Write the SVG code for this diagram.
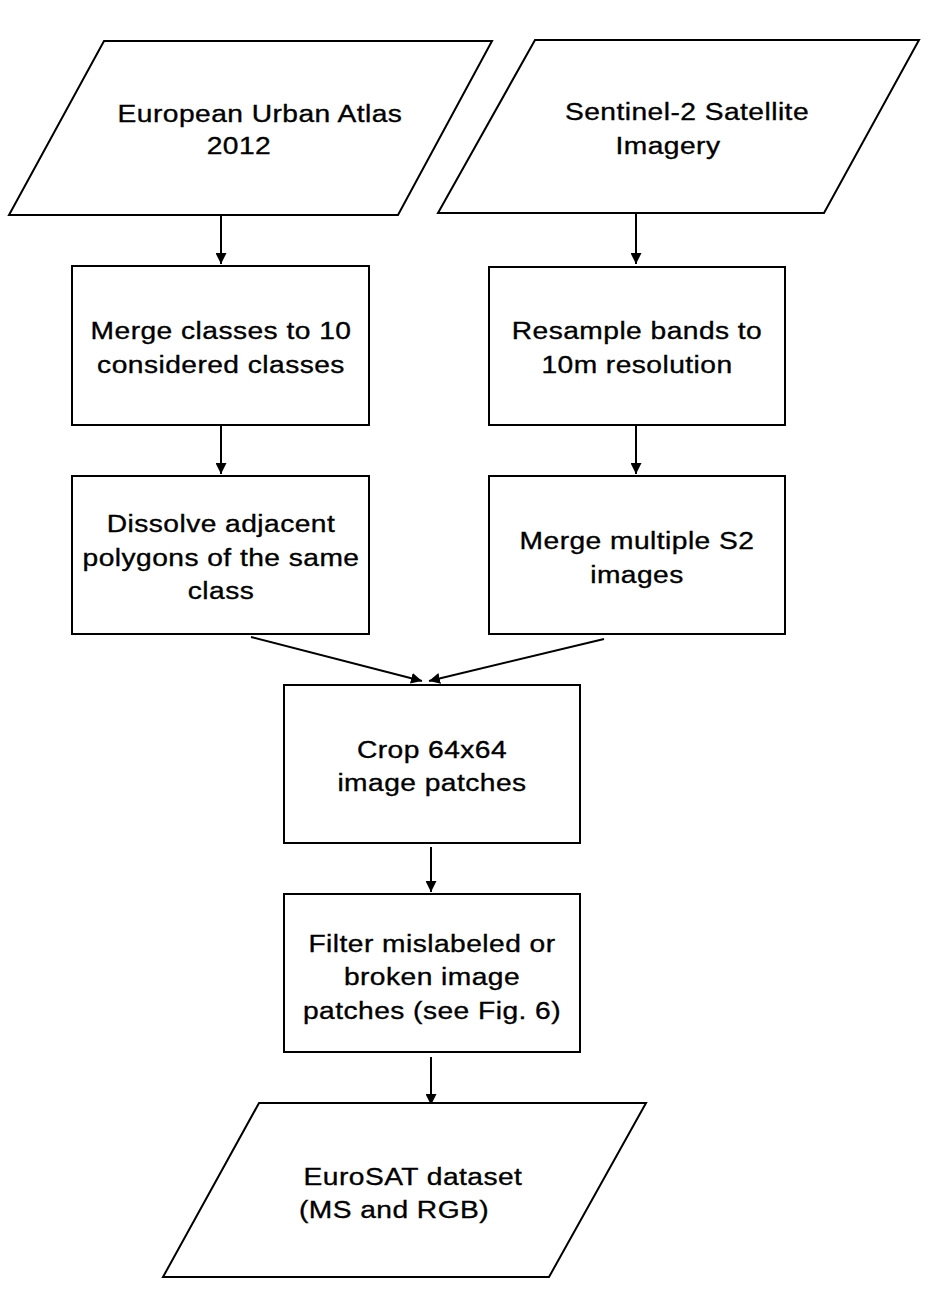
<svg xmlns="http://www.w3.org/2000/svg" width="930" height="1308" viewBox="0 0 930 1308">
<style>
.s{fill:#fff;stroke:#000;stroke-width:2}
.t{font-family:"Liberation Sans",Arial,sans-serif;font-size:24.5px;letter-spacing:0.4px;fill:#000;stroke:#000;stroke-width:0.35px;text-anchor:middle;transform-box:fill-box;transform-origin:center;transform:scaleX(1.15)}
.c{fill:none;stroke:#000;stroke-width:2}
</style>
<defs>
<marker id="ah" markerUnits="userSpaceOnUse" markerWidth="12" markerHeight="11" refX="11" refY="5.5" orient="auto">
<path d="M0,0 L11,5.5 L0,11 z" fill="#000"/>
</marker>
</defs>
<rect width="930" height="1308" fill="#fff"/>
<g id="connectors">
<line class="c" x1="221" y1="215" x2="221" y2="264" marker-end="url(#ah)"/>
<line class="c" x1="636" y1="214" x2="636" y2="264" marker-end="url(#ah)"/>
<line class="c" x1="221" y1="426" x2="221" y2="474" marker-end="url(#ah)"/>
<line class="c" x1="636" y1="426" x2="636" y2="474" marker-end="url(#ah)"/>
<line class="c" x1="251" y1="637" x2="422" y2="681" marker-end="url(#ah)"/>
<line class="c" x1="604" y1="639" x2="429" y2="681" marker-end="url(#ah)"/>
<line class="c" x1="431" y1="847" x2="431" y2="892" marker-end="url(#ah)"/>
<line class="c" x1="431" y1="1057" x2="431" y2="1105" marker-end="url(#ah)"/>
</g>
<g id="n-urban-atlas">
<polygon class="s" points="104,41 492,41 398,215 9,215"/>
<text class="t" x="260" y="122">European Urban Atlas</text>
<text class="t" x="239" y="154">2012</text>
</g>
<g id="n-sentinel">
<polygon class="s" points="535,40 919,40 824,213 438,213"/>
<text class="t" x="687" y="120">Sentinel-2 Satellite</text>
<text class="t" x="668" y="154">Imagery</text>
</g>
<g id="n-merge-classes">
<rect class="s" x="72" y="266" width="297" height="159"/>
<text class="t" x="221" y="339">Merge classes to 10</text>
<text class="t" x="221" y="373">considered classes</text>
</g>
<g id="n-resample">
<rect class="s" x="489" y="267" width="296" height="158"/>
<text class="t" x="637" y="339">Resample bands to</text>
<text class="t" x="637" y="373">10m resolution</text>
</g>
<g id="n-dissolve">
<rect class="s" x="72" y="476" width="297" height="158"/>
<text class="t" x="221" y="532">Dissolve adjacent</text>
<text class="t" x="221" y="566">polygons of the same</text>
<text class="t" x="221" y="599">class</text>
</g>
<g id="n-merge-s2">
<rect class="s" x="489" y="476" width="296" height="158"/>
<text class="t" x="637" y="549">Merge multiple S2</text>
<text class="t" x="637" y="583">images</text>
</g>
<g id="n-crop">
<rect class="s" x="284" y="685" width="296" height="158"/>
<text class="t" x="432" y="758">Crop 64x64</text>
<text class="t" x="432" y="791">image patches</text>
</g>
<g id="n-filter">
<rect class="s" x="284" y="894" width="296" height="158"/>
<text class="t" x="432" y="952">Filter mislabeled or</text>
<text class="t" x="432" y="985">broken image</text>
<text class="t" x="432" y="1019">patches (see Fig. 6)</text>
</g>
<g id="n-eurosat">
<polygon class="s" points="259,1103 646,1103 549,1277 163,1277"/>
<text class="t" x="413" y="1185">EuroSAT dataset</text>
<text class="t" x="394" y="1218">(MS and RGB)</text>
</g>
</svg>
